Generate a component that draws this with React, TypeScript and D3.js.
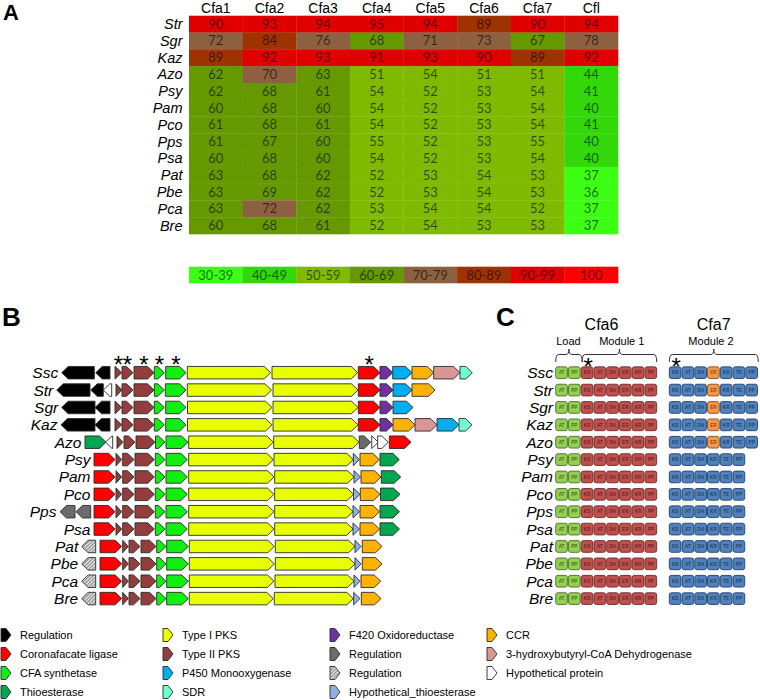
import React from "react";
import * as d3 from "d3";

// ---------- Panel A data ----------
const heatCols = ["Cfa1", "Cfa2", "Cfa3", "Cfa4", "Cfa5", "Cfa6", "Cfa7", "Cfl"];
const heatRows = ["Str", "Sgr", "Kaz", "Azo", "Psy", "Pam", "Pco", "Pps", "Psa", "Pat", "Pbe", "Pca", "Bre"];
const idStr = [90, 93, 94, 95, 94, 89, 90, 94];
const idSgr = [72, 84, 76, 68, 71, 73, 67, 78];
const idKaz = [89, 92, 93, 91, 93, 90, 89, 92];
const idAzo = [62, 70, 63, 51, 54, 51, 51, 44];
const idPsy = [62, 68, 61, 54, 52, 53, 54, 41];
const idPam = [60, 68, 60, 54, 52, 53, 54, 40];
const idPco = [61, 68, 61, 54, 52, 53, 54, 41];
const idPps = [61, 67, 60, 55, 52, 53, 55, 40];
const idPsa = [60, 68, 60, 54, 52, 53, 54, 40];
const idPat = [63, 68, 62, 52, 53, 54, 53, 37];
const idPbe = [63, 69, 62, 52, 53, 54, 53, 36];
const idPca = [63, 72, 62, 53, 54, 54, 52, 37];
const idBre = [60, 68, 61, 52, 54, 53, 53, 37];
const identity = [idStr, idSgr, idKaz, idAzo, idPsy, idPam, idPco, idPps, idPsa, idPat, idPbe, idPca, idBre];
const binLabels = ["30-39", "40-49", "50-59", "60-69", "70-79", "80-89", "90-99", "100"];
const binThresholds = [40, 50, 60, 70, 80, 90, 100];
const binColors = ["#3cff14", "#33d80a", "#80ba00", "#669900", "#8c6040", "#9e3300", "#e00000", "#ff0000"];

// ---------- Panel B data (positions in 100 bp units) ----------
const clusterNames = ["Ssc", "Str", "Sgr", "Kaz", "Azo", "Psy", "Pam", "Pco", "Pps", "Psa", "Pat", "Pbe", "Pca", "Bre"];
type Gene = [number, number, number, string];
const genesSsc: Gene[] = [[6.7, 39.3, -1, "REG"], [40.7, 55, -1, "REG"], [60, 66.7, 1, "T2"], [67, 78, 1, "T2"], [79, 99, 1, "T2"], [99.3, 109.3, 1, "CFA"], [110.7, 131, 1, "CFA"], [132.3, 215.7, 1, "T1"], [217, 302.7, 1, "T1"], [303.3, 325, 1, "LIG"], [325, 337.7, 1, "F420"], [337.7, 357, 1, "P450"], [357, 378.7, 1, "CCR"], [378.7, 405, 1, "HBD"], [405, 417.3, 1, "SDR"]];
const genesStr: Gene[] = [[1.7, 35, -1, "REG"], [35.7, 48.3, -1, "REG"], [48.3, 56.7, -1, "HYP"], [61, 67, 1, "T2"], [67, 78, 1, "T2"], [79, 99, 1, "T2"], [99.3, 109.3, 1, "CFA"], [110.3, 131, 1, "CFA"], [132.3, 216.5, 1, "T1"], [218, 303, 1, "T1"], [303.3, 325, 1, "LIG"], [325, 338, 1, "F420"], [338, 357, 1, "P450"], [357, 380, 1, "CCR"]];
const genesSgr: Gene[] = [[6.7, 40, -1, "REG"], [40, 55, -1, "REG"], [60, 66.7, 1, "T2"], [67, 78, 1, "T2"], [79, 99, 1, "T2"], [99.3, 109.3, 1, "CFA"], [110.7, 131, 1, "CFA"], [132.5, 217, 1, "T1"], [218, 303, 1, "T1"], [303.3, 325, 1, "LIG"], [325, 338, 1, "F420"], [338, 358, 1, "P450"]];
const genesKaz: Gene[] = [[6, 40, -1, "REG"], [40, 55, -1, "REG"], [60, 66.7, 1, "T2"], [67, 78, 1, "T2"], [79, 99, 1, "T2"], [99.3, 109.3, 1, "CFA"], [110.7, 131, 1, "CFA"], [132.5, 217, 1, "T1"], [218, 303, 1, "T1"], [303.3, 325, 1, "LIG"], [325, 338, 1, "F420"], [338, 360, 1, "CCR"], [360, 382, 1, "HBD"], [382, 404, 1, "P450"], [404, 417, 1, "SDR"]];
const genesAzo: Gene[] = [[30, 51, 1, "TE"], [50.5, 57.7, -1, "HYP"], [62, 68, 1, "T2"], [69, 80, 1, "T2"], [81, 100, 1, "T2"], [100.5, 110, 1, "CFA"], [111, 133, 1, "CFA"], [133.7, 218.3, 1, "T1"], [218.7, 304, 1, "T1"], [304.3, 315.7, 1, "REGG"], [316.7, 323.3, 1, "HYP"], [322.7, 333.3, 1, "HYP"], [334.3, 356, 1, "LIG"]];
const genesPsy: Gene[] = [[39, 60, 1, "LIG"], [61, 66.7, 1, "T2"], [67.7, 79, 1, "T2"], [80, 99.3, 1, "T2"], [100.3, 110, 1, "CFA"], [111, 132.3, 1, "CFA"], [133.7, 218.3, 1, "T1"], [219, 298.3, 1, "T1"], [298.3, 304.3, 1, "HTE"], [305, 324.3, 1, "CCR"], [325, 344.3, 1, "TE"]];
const genesPam: Gene[] = [[39, 60, 1, "LIG"], [61, 66.7, 1, "T2"], [67.7, 79, 1, "T2"], [80, 99.3, 1, "T2"], [100.3, 110, 1, "CFA"], [111, 132.3, 1, "CFA"], [133.7, 219, 1, "T1"], [219.7, 299, 1, "T1"], [299, 305.5, 1, "HTE"], [306, 326, 1, "CCR"], [326.3, 345.7, 1, "TE"]];
const genesPco: Gene[] = [[39, 60, 1, "LIG"], [61, 66.7, 1, "T2"], [67.7, 79, 1, "T2"], [80, 99.3, 1, "T2"], [100.3, 110, 1, "CFA"], [111, 132.3, 1, "CFA"], [133.7, 219, 1, "T1"], [219.7, 298.5, 1, "T1"], [298.5, 305, 1, "HTE"], [305.3, 325, 1, "CCR"], [325.5, 345, 1, "TE"]];
const genesPps: Gene[] = [[5, 20, -1, "REGG"], [21, 35.7, -1, "REGG"], [39, 60, 1, "LIG"], [61, 66.7, 1, "T2"], [67.7, 79, 1, "T2"], [80, 99.3, 1, "T2"], [100.3, 110, 1, "CFA"], [111, 132.3, 1, "CFA"], [133.7, 219, 1, "T1"], [219.7, 298, 1, "T1"], [298, 304.5, 1, "HTE"], [305, 324.5, 1, "CCR"], [325, 344.5, 1, "TE"]];
const genesPsa: Gene[] = [[39, 60, 1, "LIG"], [61, 66.7, 1, "T2"], [67.7, 79, 1, "T2"], [80, 99.3, 1, "T2"], [100.3, 110, 1, "CFA"], [111, 132.3, 1, "CFA"], [133.7, 219, 1, "T1"], [219.7, 298, 1, "T1"], [298, 304.5, 1, "HTE"], [305, 324.5, 1, "CCR"], [325, 344.5, 1, "TE"]];
const genesPat: Gene[] = [[26.7, 40.7, -1, "REGH"], [45, 66.7, 1, "LIG"], [67.7, 73.3, 1, "T2"], [74, 85, 1, "T2"], [86, 101, 1, "T2"], [101.7, 111, 1, "CFA"], [111.7, 133.3, 1, "CFA"], [134.3, 219.3, 1, "T1"], [220.3, 300, 1, "T1"], [300, 306, 1, "HTE"], [307.3, 327, 1, "CCR"]];
const genesPbe: Gene[] = [[26.7, 40.7, -1, "REGH"], [45, 66.7, 1, "LIG"], [67.7, 73.3, 1, "T2"], [74, 85, 1, "T2"], [86, 101, 1, "T2"], [101.7, 111, 1, "CFA"], [111.7, 133.3, 1, "CFA"], [134.3, 219.3, 1, "T1"], [220.3, 300, 1, "T1"], [300, 306, 1, "HTE"], [307.3, 327, 1, "CCR"]];
const genesPca: Gene[] = [[26.7, 40.7, -1, "REGH"], [45, 66.7, 1, "LIG"], [67.7, 73.3, 1, "T2"], [74, 85, 1, "T2"], [86, 101, 1, "T2"], [101.7, 111, 1, "CFA"], [111.7, 133.3, 1, "CFA"], [134.3, 219, 1, "T1"], [220, 299, 1, "T1"], [299, 305, 1, "HTE"], [306, 325.7, 1, "CCR"]];
const genesBre: Gene[] = [[26.7, 40.7, -1, "REGH"], [45, 66.7, 1, "LIG"], [67.7, 73.3, 1, "T2"], [74, 85, 1, "T2"], [86, 101, 1, "T2"], [101.7, 111, 1, "CFA"], [111.7, 133.3, 1, "CFA"], [134.3, 218.3, 1, "T1"], [219.3, 298.3, 1, "T1"], [298.7, 305, 1, "HTE"], [306.3, 326, 1, "CCR"]];
const clusterGenes = [genesSsc, genesStr, genesSgr, genesKaz, genesAzo, genesPsy, genesPam, genesPco, genesPps, genesPsa, genesPat, genesPbe, genesPca, genesBre];
const starredGenes = [2, 3, 4, 5, 6, 9];

const geneTypes = ["REG", "LIG", "CFA", "TE", "T1", "T2", "P450", "SDR", "F420", "REGG", "REGH", "HTE", "CCR", "HBD", "HYP"];
const geneLabels = ["Regulation", "Coronafacate ligase", "CFA synthetase", "Thioesterase", "Type I PKS", "Type II PKS", "P450 Monooxygenase", "SDR", "F420 Oxidoreductase", "Regulation", "Regulation", "Hypothetical_thioesterase", "CCR", "3-hydroxybutyryl-CoA Dehydrogenase", "Hypothetical protein"];
const geneColors = ["#000000", "#ff0000", "#11ee11", "#00a650", "#e8ff00", "#933d3d", "#00aeef", "#6fffd0", "#7030a0", "#6b6b6b", "url(#hatch)", "#8db3e2", "#ffb300", "#d99694", "#ffffff"];

// ---------- Panel C data ----------
const loadDomains = ["AT", "PP"];
const module1Domains = ["KS", "AT", "DH", "ER", "KR", "PP"];
const module2WithER = ["KS", "AT", "DH", "ER", "KR", "TE", "PP"];
const module2NoER = ["KS", "AT", "DH", "KR", "TE", "PP"];
const hasER = [true, true, true, true, true, false, false, false, false, false, false, false, false, false];

const FONT = "'Liberation Sans', Arial, sans-serif";

function genePath(x0: number, x1: number, y: number, h: number, strand: number, tipMax = 6.5) {
  const tip = Math.min(tipMax, x1 - x0);
  const t = y - h / 2, b = y + h / 2;
  if (strand > 0) return `M${x0},${t}L${x1 - tip},${t}L${x1},${y}L${x1 - tip},${b}L${x0},${b}Z`;
  return `M${x1},${t}L${x0 + tip},${t}L${x0},${y}L${x0 + tip},${b}L${x1},${b}Z`;
}

export default function App() {
  // Panel A scales
  const hx = d3.scaleBand().domain(heatCols).range([189, 618]);
  const hy = d3.scaleBand().domain(heatRows).range([15.7, 234]);
  const color = d3.scaleThreshold<number, string>().domain(binThresholds).range(binColors);
  const lx = d3.scaleBand().domain(binLabels).range([189, 618]);

  // Panel B scales
  const gx = d3.scaleLinear().domain([0, 420]).range([55, 475]);
  const gy = d3.scalePoint().domain(clusterNames).range([372.7, 598.6]);
  const typeColor = d3.scaleOrdinal<string, string>().domain(geneTypes).range(geneColors);
  const geneH = 12.5;

  // Panel C
  const boxStep = 12.75, boxW = 11.7, boxH = 11.7;
  const cStart = 555.7, m2Start = 669.3;

  const legendCols = [0, 4, 8, 12];
  const legendX = [1, 163, 330, 487];
  const legendY = [635, 654, 673, 692];

  const brace = (x0: number, x1: number) => {
    const xc = (x0 + x1) / 2, yb = 362, ym = 354.5, yt = 349;
    return `M${x0},${yb}Q${x0},${ym} ${x0 + 3},${ym}L${xc - 3},${ym}Q${xc},${ym} ${xc},${yt}Q${xc},${ym} ${xc + 3},${ym}L${x1 - 3},${ym}Q${x1},${ym} ${x1},${yb}`;
  };

  const domainColor = (group: string, d: string) => {
    if (group === "load") return "#92d050";
    if (group === "m1") return "#c0504d";
    return d === "ER" ? "#f79646" : "#4f81bd";
  };
  const domainStroke = (group: string, d: string) => {
    if (group === "load") return "#4f6b2a";
    if (group === "m1") return "#6e2a28";
    return d === "ER" ? "#8a4d1c" : "#24426b";
  };

  return (
    <svg width={760} height={700} style={{ position: "absolute", left: 0, top: 0, background: "#fff" }} fontFamily={FONT}>
      <defs>
        <pattern id="hatch" width={2.5} height={2.5} patternUnits="userSpaceOnUse" patternTransform="rotate(45)">
          <rect width={2.5} height={2.5} fill="#d8d8d8" />
          <line x1={0} y1={0} x2={0} y2={2.5} stroke="#6a6a6a" strokeWidth={1.3} />
        </pattern>
      </defs>

      {/* Panel A */}
      <text x={3} y={20} fontSize={22} fontWeight="bold">A</text>
      {heatCols.map((c) => (
        <text key={c} x={hx(c)! + hx.bandwidth() / 2} y={12.5} fontSize={14} textAnchor="middle">{c}</text>
      ))}
      {heatRows.map((r, i) => (
        <g key={r}>
          <text x={182.5} y={hy(r)! + hy.bandwidth() / 2 + 5} fontSize={14.5} fontStyle="italic" textAnchor="end">{r}</text>
          {heatCols.map((c, j) => (
            <g key={c}>
              <rect x={hx(c)!} y={hy(r)!} width={hx.bandwidth() + 0.3} height={hy.bandwidth() + 0.3} fill={color(identity[i][j])} />
              <text x={hx(c)! + hx.bandwidth() / 2} y={hy(r)! + hy.bandwidth() / 2 + 4.5} fontSize={13} textAnchor="middle" fill="#000" fillOpacity={0.6} fontFamily="Lato, 'Open Sans', sans-serif">{identity[i][j]}</text>
            </g>
          ))}
        </g>
      ))}
      {binLabels.map((b, i) => (
        <g key={b}>
          <rect x={lx(b)!} y={266.7} width={lx.bandwidth() + 0.3} height={16.6} fill={binColors[i]} />
          <text x={lx(b)! + lx.bandwidth() / 2} y={279.5} fontSize={13} textAnchor="middle" fill="#000" fillOpacity={0.6} fontFamily="Lato, 'Open Sans', sans-serif">{b}</text>
        </g>
      ))}

      {/* Panel B */}
      <text x={2} y={326} fontSize={26} fontWeight="bold">B</text>
      {starredGenes.map((gi) => {
        const g = genesSsc[gi];
        return <text key={gi} x={gx((g[0] + g[1]) / 2)} y={372.5} fontSize={24} textAnchor="middle">*</text>;
      })}
      {clusterNames.map((n, i) => {
        const genes = clusterGenes[i];
        const y = gy(n)!;
        return (
          <g key={n}>
            <text x={gx(genes[0][0]) - 3.5} y={y + 5.5} fontSize={15.5} fontStyle="italic" textAnchor="end">{n}</text>
            {genes.map((g, k) => (
              <path key={k} d={genePath(gx(g[0]), gx(g[1]), y, geneH, g[2])} fill={typeColor(g[3])} stroke="#2a2a2a" strokeWidth={0.9} strokeLinejoin="round" />
            ))}
          </g>
        );
      })}

      {/* Legend for B */}
      {legendCols.map((start, ci) =>
        geneTypes.slice(start, start + 4).map((t, ri) => {
          const idx = start + ri;
          const x = legendX[ci], y = legendY[ri];
          return (
            <g key={idx}>
              <path d={genePath(x, x + 10, y, 13, 1, 5)} fill={geneColors[idx]} stroke="#2a2a2a" strokeWidth={0.9} />
              <text x={x + 19} y={y + 4} fontSize={11}>{geneLabels[idx]}</text>
            </g>
          );
        })
      )}

      {/* Panel C */}
      <text x={496} y={326} fontSize={26} fontWeight="bold">C</text>
      <text x={601.5} y={330} fontSize={16} textAnchor="middle">Cfa6</text>
      <text x={713.7} y={330} fontSize={16} textAnchor="middle">Cfa7</text>
      <text x={568.5} y={345} fontSize={11} textAnchor="middle">Load</text>
      <text x={621.8} y={345} fontSize={11} textAnchor="middle">Module 1</text>
      <text x={711} y={345} fontSize={11} textAnchor="middle">Module 2</text>
      <path d={brace(cStart, cStart + 2 * boxStep + 1)} fill="none" stroke="#333" strokeWidth={1} />
      <path d={brace(cStart + 2 * boxStep + 1, cStart + 8 * boxStep - 1)} fill="none" stroke="#333" strokeWidth={1} />
      <path d={brace(m2Start, m2Start + 7 * boxStep - 0.3)} fill="none" stroke="#333" strokeWidth={1} />
      <text x={cStart + 2 * boxStep + boxW / 2 + 1} y={374.5} fontSize={24} textAnchor="middle">*</text>
      <text x={m2Start + boxW / 2 + 1} y={374.5} fontSize={24} textAnchor="middle">*</text>
      {clusterNames.map((n, i) => {
        const y = gy(n)!;
        const first = [...loadDomains.map((d) => ["load", d]), ...module1Domains.map((d) => ["m1", d])];
        const second = (hasER[i] ? module2WithER : module2NoER).map((d) => ["m2", d]);
        const renderBox = (grp: string, d: string, x: number, k: string) => (
          <g key={k}>
            <rect x={x} y={y - boxH / 2} width={boxW} height={boxH} rx={2.2} fill={domainColor(grp, d)} stroke={domainStroke(grp, d)} strokeWidth={0.9} />
            <text x={x + boxW / 2} y={y + 1.7} fontSize={4.6} fontWeight="bold" textAnchor="middle" fill="#000" fillOpacity={0.5}>{d}</text>
          </g>
        );
        return (
          <g key={n}>
            <text x={553} y={y + 5.5} fontSize={15.5} fontStyle="italic" textAnchor="end">{n}</text>
            {first.map(([grp, d], k) => renderBox(grp, d, cStart + k * boxStep, "a" + k))}
            {second.map(([grp, d], k) => renderBox(grp, d, m2Start + k * boxStep, "b" + k))}
          </g>
        );
      })}
    </svg>
  );
}
